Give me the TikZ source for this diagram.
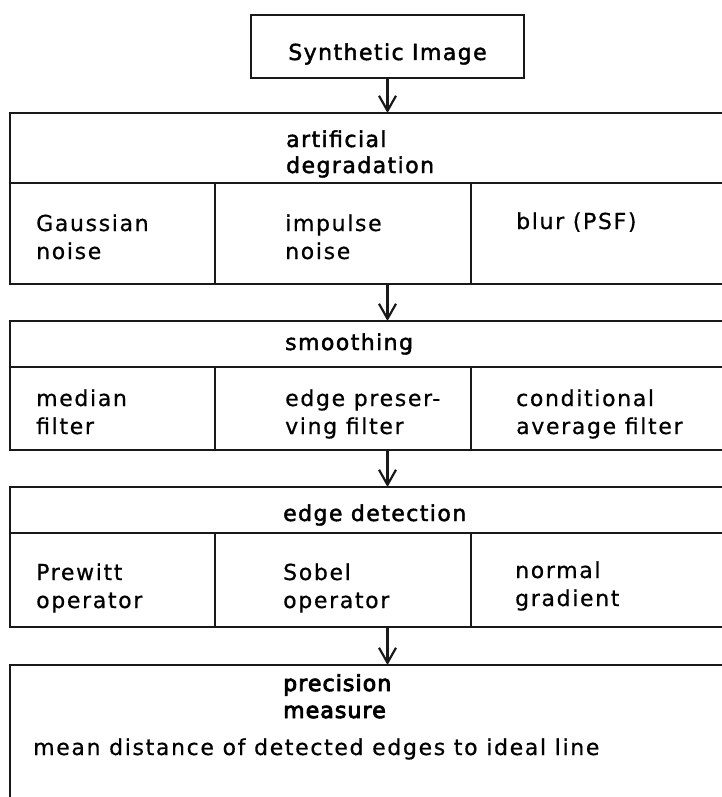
\documentclass[tikz,border=0pt]{standalone}
\usepackage{fontspec}
\setmainfont{DejaVu Sans}[LetterSpace=7.5,FakeBold=0.6]
\newfontfamily\medfont{DejaVu Sans}[LetterSpace=6.5,FakeBold=2]
\newfontfamily\heavyfont{DejaVu Sans}[LetterSpace=5,FakeBold=4]
\usetikzlibrary{arrows.meta}
\tikzset{
  box/.style={draw=black!90, line width=2.2pt, anchor=north west, inner sep=0pt, outer sep=0pt},
  arr/.style={draw=black!90, line width=2.2pt, -{Straight Barb[length=15pt,width=17pt,line width=2.2pt]}},
  txt/.style={anchor=base west, inner sep=0pt, font=\fontsize{22}{27}\selectfont},
  hd/.style={txt, font=\fontsize{22}{27}\medfont},
  hb/.style={txt, font=\fontsize{22}{27}\heavyfont}
}
\begin{document}
\begin{tikzpicture}[x=1pt,y=-1pt]
\useasboundingbox (0,0) rectangle (722,797);
\clip (0,0) rectangle (722,797);
% top box
\node[box, minimum width=273pt, minimum height=63pt] (img) at (251,15) {};
\node[hd, anchor=base] (imgt) at (387.5,60) {Synthetic Image};
% block 1
\node[box, minimum width=730pt, minimum height=70pt] (deg) at (10,113) {};
\node[box, minimum width=205pt, minimum height=101pt] (c11) at (10,183) {};
\node[box, minimum width=256pt, minimum height=101pt] (c12) at (215,183) {};
\node[box, minimum width=269pt, minimum height=101pt] (c13) at (471,183) {};
\node[hd] (degt1) at (286,147) {artificial};
\node[hd] (degt2) at (286,173) {degradation};
\node[txt] (t11a) at (36,231) {Gaussian};
\node[txt] (t11b) at (36,259) {noise};
\node[txt] (t12a) at (285,231) {impulse};
\node[txt] (t12b) at (285,259) {noise};
\node[txt] (t13a) at (516,229) {blur (PSF)};
% block 2
\node[box, minimum width=730pt, minimum height=46pt] (smo) at (10,321) {};
\node[box, minimum width=205pt, minimum height=83pt] (c21) at (10,367) {};
\node[box, minimum width=256pt, minimum height=83pt] (c22) at (215,367) {};
\node[box, minimum width=269pt, minimum height=83pt] (c23) at (471,367) {};
\node[hd] (smot) at (285,350) {smoothing};
\node[txt] (t21a) at (36,406) {median};
\node[txt] (t21b) at (36,434) {filter};
\node[txt] (t22a) at (285,406) {edge preser-};
\node[txt] (t22b) at (285,434) {ving filter};
\node[txt] (t23a) at (516,406) {conditional};
\node[txt] (t23b) at (516,434) {average filter};
% block 3
\node[box, minimum width=730pt, minimum height=46pt] (edt) at (10,487) {};
\node[box, minimum width=205pt, minimum height=94pt] (c31) at (10,533) {};
\node[box, minimum width=256pt, minimum height=94pt] (c32) at (215,533) {};
\node[box, minimum width=269pt, minimum height=94pt] (c33) at (471,533) {};
\node[hd] (edtt) at (283,521) {edge detection};
\node[txt] (t31a) at (36,580) {Prewitt};
\node[txt] (t31b) at (36,608) {operator};
\node[txt] (t32a) at (283,580) {Sobel};
\node[txt] (t32b) at (283,608) {operator};
\node[txt] (t33a) at (515,578) {normal};
\node[txt] (t33b) at (515,606) {gradient};
% block 4
\node[box, minimum width=730pt, minimum height=150pt] (pre) at (10,665) {};
\node[hb] (pret1) at (283,691) {precision};
\node[hb] (pret2) at (283,718) {measure};
\node[txt] (pret3) at (33,755) {mean distance of detected edges to ideal line};
% arrows
\draw[arr] (img.south) -- (img.south |- deg.north);
\draw[arr] (c12.south -| img.south) -- (img.south |- smo.north);
\draw[arr] (c22.south -| img.south) -- (img.south |- edt.north);
\draw[arr] (c32.south -| img.south) -- (img.south |- pre.north);
\end{tikzpicture}
\end{document}
